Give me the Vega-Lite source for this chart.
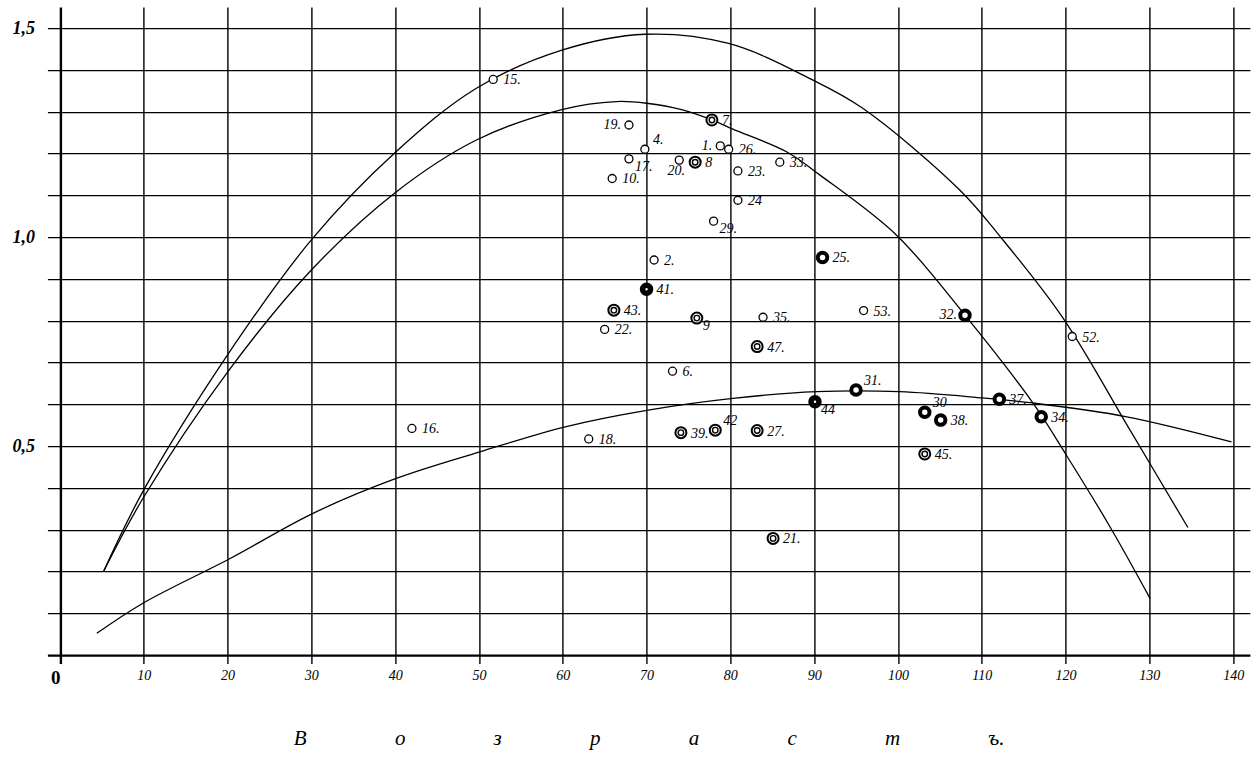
{
  "$schema": "https://vega.github.io/schema/vega-lite/v6.json",
  "autosize": {"type": "none"},
  "padding": {"left": 47.4, "top": 7.1, "right": 8.1, "bottom": 93.6},
  "width": 1202.5,
  "height": 656.3,
  "background": "white",
  "config": {"view": {"stroke": null}},
  "datasets": {
    "points": [
      {"id": 15, "x": 51.7, "y": 1.377, "kind": "open", "label": "15."},
      {"id": 19, "x": 67.9, "y": 1.268, "kind": "open", "label": "19."},
      {"id": 7, "x": 77.8, "y": 1.28, "kind": "double", "label": "7."},
      {"id": 4, "x": 69.8, "y": 1.21, "kind": "open", "label": "4."},
      {"id": 1, "x": 78.8, "y": 1.218, "kind": "open", "label": "1."},
      {"id": 26, "x": 79.8, "y": 1.21, "kind": "open", "label": "26."},
      {"id": 17, "x": 67.9, "y": 1.187, "kind": "open", "label": "17."},
      {"id": 20, "x": 73.9, "y": 1.184, "kind": "open", "label": "20."},
      {"id": 8, "x": 75.8, "y": 1.179, "kind": "double", "label": "8"},
      {"id": 23, "x": 80.9, "y": 1.158, "kind": "open", "label": "23."},
      {"id": 33, "x": 85.9, "y": 1.179, "kind": "open", "label": "33."},
      {"id": 10, "x": 65.9, "y": 1.14, "kind": "open", "label": "10."},
      {"id": 24, "x": 80.9, "y": 1.088, "kind": "open", "label": "24"},
      {"id": 29, "x": 78.0, "y": 1.038, "kind": "open", "label": "29."},
      {"id": 2, "x": 70.9, "y": 0.945, "kind": "open", "label": "2."},
      {"id": 41, "x": 70.0, "y": 0.875, "kind": "heavy", "label": "41."},
      {"id": 43, "x": 66.1, "y": 0.825, "kind": "double", "label": "43."},
      {"id": 9, "x": 76.0, "y": 0.806, "kind": "double", "label": "9"},
      {"id": 35, "x": 83.9, "y": 0.808, "kind": "open", "label": "35."},
      {"id": 22, "x": 65.0, "y": 0.779, "kind": "open", "label": "22."},
      {"id": 47, "x": 83.2, "y": 0.738, "kind": "double", "label": "47."},
      {"id": 6, "x": 73.1, "y": 0.679, "kind": "open", "label": "6."},
      {"id": 16, "x": 42.0, "y": 0.542, "kind": "open", "label": "16."},
      {"id": 18, "x": 63.1, "y": 0.517, "kind": "open", "label": "18."},
      {"id": 39, "x": 74.1, "y": 0.532, "kind": "double", "label": "39."},
      {"id": 42, "x": 78.2, "y": 0.538, "kind": "double", "label": "42"},
      {"id": 27, "x": 83.2, "y": 0.537, "kind": "double", "label": "27."},
      {"id": 21, "x": 85.1, "y": 0.279, "kind": "double", "label": "21."},
      {"id": 25, "x": 91.0, "y": 0.951, "kind": "bold", "label": "25."},
      {"id": 53, "x": 95.9, "y": 0.824, "kind": "open", "label": "53."},
      {"id": 32, "x": 108.0, "y": 0.813, "kind": "bold", "label": "32."},
      {"id": 52, "x": 120.8, "y": 0.762, "kind": "open", "label": "52."},
      {"id": 31, "x": 95.0, "y": 0.634, "kind": "bold", "label": "31."},
      {"id": 44, "x": 90.1, "y": 0.606, "kind": "heavy", "label": "44"},
      {"id": 37, "x": 112.1, "y": 0.612, "kind": "bold", "label": "37."},
      {"id": 30, "x": 103.2, "y": 0.581, "kind": "bold", "label": "30"},
      {"id": 38, "x": 105.1, "y": 0.562, "kind": "bold", "label": "38."},
      {"id": 34, "x": 117.1, "y": 0.57, "kind": "bold", "label": "34."},
      {"id": 45, "x": 103.2, "y": 0.481, "kind": "double", "label": "45."}
    ],
    "curves": [
      {"curve": "A", "x": 5.2, "y": 0.2},
      {"curve": "A", "x": 10, "y": 0.395},
      {"curve": "A", "x": 20, "y": 0.718},
      {"curve": "A", "x": 30, "y": 0.993},
      {"curve": "A", "x": 40, "y": 1.202},
      {"curve": "A", "x": 49.7, "y": 1.356},
      {"curve": "A", "x": 59.9, "y": 1.447},
      {"curve": "A", "x": 69.8, "y": 1.485},
      {"curve": "A", "x": 79.8, "y": 1.463},
      {"curve": "A", "x": 89.7, "y": 1.377},
      {"curve": "A", "x": 95.8, "y": 1.308},
      {"curve": "A", "x": 107.4, "y": 1.112},
      {"curve": "A", "x": 112.2, "y": 1.001},
      {"curve": "A", "x": 119.7, "y": 0.806},
      {"curve": "A", "x": 127.7, "y": 0.538},
      {"curve": "A", "x": 134.6, "y": 0.305},
      {"curve": "B", "x": 5.2, "y": 0.2},
      {"curve": "B", "x": 10, "y": 0.378},
      {"curve": "B", "x": 20, "y": 0.677},
      {"curve": "B", "x": 30, "y": 0.921},
      {"curve": "B", "x": 40, "y": 1.106},
      {"curve": "B", "x": 49.7, "y": 1.232},
      {"curve": "B", "x": 59.9, "y": 1.305},
      {"curve": "B", "x": 66.4, "y": 1.324},
      {"curve": "B", "x": 70, "y": 1.32},
      {"curve": "B", "x": 74.3, "y": 1.304},
      {"curve": "B", "x": 77.8, "y": 1.28},
      {"curve": "B", "x": 80.3, "y": 1.258},
      {"curve": "B", "x": 86.7, "y": 1.204},
      {"curve": "B", "x": 90.7, "y": 1.148},
      {"curve": "B", "x": 99.8, "y": 1.005},
      {"curve": "B", "x": 107.8, "y": 0.818},
      {"curve": "B", "x": 116.1, "y": 0.603},
      {"curve": "B", "x": 120.1, "y": 0.478},
      {"curve": "B", "x": 125.3, "y": 0.307},
      {"curve": "B", "x": 130.1, "y": 0.135},
      {"curve": "C", "x": 4.4, "y": 0.052},
      {"curve": "C", "x": 9.9, "y": 0.124},
      {"curve": "C", "x": 20.3, "y": 0.231},
      {"curve": "C", "x": 30.2, "y": 0.339},
      {"curve": "C", "x": 40.2, "y": 0.423},
      {"curve": "C", "x": 50.1, "y": 0.486},
      {"curve": "C", "x": 60.3, "y": 0.546},
      {"curve": "C", "x": 70.2, "y": 0.586},
      {"curve": "C", "x": 80.3, "y": 0.614},
      {"curve": "C", "x": 90.3, "y": 0.63},
      {"curve": "C", "x": 100.2, "y": 0.63},
      {"curve": "C", "x": 110.1, "y": 0.615},
      {"curve": "C", "x": 116.1, "y": 0.603},
      {"curve": "C", "x": 127.3, "y": 0.57},
      {"curve": "C", "x": 139.8, "y": 0.51}
    ]
  },
  "encoding": {
    "x": {
      "field": "x", "type": "quantitative",
      "scale": {"domain": [-1.5, 142], "nice": false, "zero": false},
      "axis": {
        "values": [0, 10, 20, 30, 40, 50, 60, 70, 80, 90, 100, 110, 120, 130, 140],
        "grid": true,
        "gridColor": "black",
        "gridOpacity": 1,
        "gridWidth": {"condition": {"test": "datum.value == 0", "value": 2.4}, "value": 1.4},
        "domain": false,
        "ticks": false,
        "labelExpr": "datum.value == 0 ? '0' : datum.label",
        "labelFont": "Liberation Serif",
        "labelFontStyle": {"condition": {"test": "datum.value == 0", "value": "normal"}, "value": "italic"},
        "labelFontWeight": {"condition": {"test": "datum.value == 0", "value": "bold"}, "value": "normal"},
        "labelFontSize": {"condition": {"test": "datum.value == 0", "value": 19}, "value": 14},
        "labelAlign": {"condition": {"test": "datum.value == 0", "value": "right"}, "value": "center"},
        "labelColor": "black",
        "labelPadding": 5,
        "labelFlush": false,
        "labelOverlap": false,
        "title": "В\u2003\u2003\u2003\u2003\u2009о\u2003\u2003\u2003\u2003\u2009з\u2003\u2003\u2003\u2003\u2009р\u2003\u2003\u2003\u2003\u2009а\u2003\u2003\u2003\u2003\u2009с\u2003\u2003\u2003\u2003\u2009т\u2003\u2003\u2003\u2003\u2009ъ.",
        "titleFont": "Liberation Serif",
        "titleFontStyle": "italic",
        "titleFontWeight": "normal",
        "titleFontSize": 21,
        "titleColor": "black",
        "titlePadding": 40
      }
    },
    "y": {
      "field": "y", "type": "quantitative",
      "scale": {"domain": [-0.02, 1.55], "nice": false, "zero": false},
      "axis": {
        "values": [0, 0.1, 0.2, 0.3, 0.4, 0.5, 0.6, 0.7, 0.8, 0.9, 1, 1.1, 1.2, 1.3, 1.4, 1.5],
        "grid": true,
        "gridColor": "black",
        "gridOpacity": 1,
        "gridWidth": {"condition": {"test": "datum.value == 0", "value": 2.2}, "value": 1.4},
        "domain": false,
        "ticks": false,
        "labelExpr": "datum.value == 0.5 ? '0,5' : datum.value == 1 ? '1,0' : datum.value == 1.5 ? '1,5' : ''",
        "labelFont": "Liberation Serif",
        "labelFontStyle": "italic",
        "labelFontWeight": "bold",
        "labelFontSize": 18,
        "labelColor": "black",
        "labelPadding": 13,
        "labelOverlap": false,
        "title": null
      }
    }
  },
  "layer": [
    {
      "data": {"name": "curves"},
      "mark": {"type": "line", "color": "black", "strokeWidth": 1.3, "interpolate": "catmull-rom"},
      "encoding": {"detail": {"field": "curve"}}
    },
    {
      "data": {"name": "points"},
      "transform": [{"filter": "datum.kind == 'open'"}],
      "mark": {"type": "point", "shape": "circle", "filled": true, "fill": "white", "stroke": "black", "strokeWidth": 1.3, "size": 64, "opacity": 1}
    },
    {
      "data": {"name": "points"},
      "transform": [{"filter": "datum.kind == 'double'"}],
      "mark": {"type": "point", "shape": "circle", "filled": true, "fill": "white", "stroke": "black", "strokeWidth": 2, "size": 121, "opacity": 1}
    },
    {
      "data": {"name": "points"},
      "transform": [{"filter": "datum.kind == 'double'"}],
      "mark": {"type": "point", "shape": "circle", "filled": true, "fill": "white", "stroke": "black", "strokeWidth": 1.4, "size": 30, "opacity": 1}
    },
    {
      "data": {"name": "points"},
      "transform": [{"filter": "datum.kind == 'bold'"}],
      "mark": {"type": "point", "shape": "circle", "filled": true, "fill": "white", "stroke": "black", "strokeWidth": 4, "size": 90, "opacity": 1}
    },
    {
      "data": {"name": "points"},
      "transform": [{"filter": "datum.kind == 'heavy'"}],
      "mark": {"type": "point", "shape": "circle", "filled": true, "fill": "white", "stroke": "black", "strokeWidth": 5.5, "size": 64, "opacity": 1}
    },
    {
      "data": {"name": "points"},
      "transform": [{"filter": "indexof([19, 1, 32, 17, 29, 44, 9, 31, 30, 42, 4, 20], datum.id) < 0"}],
      "mark": {"type": "text", "align": "left", "baseline": "middle", "dx": 10, "dy": 1, "font": "Liberation Serif", "fontStyle": "italic", "fontSize": 14, "color": "black"},
      "encoding": {"text": {"field": "label"}}
    },
    {
      "data": {"name": "points"},
      "transform": [{"filter": "indexof([19, 1, 32], datum.id) >= 0"}],
      "mark": {"type": "text", "align": "right", "baseline": "middle", "dx": -8, "dy": 0, "font": "Liberation Serif", "fontStyle": "italic", "fontSize": 14, "color": "black"},
      "encoding": {"text": {"field": "label"}}
    },
    {
      "data": {"name": "points"},
      "transform": [{"filter": "indexof([31, 30, 42, 4], datum.id) >= 0"}],
      "mark": {"type": "text", "align": "left", "baseline": "middle", "dx": 8, "dy": -9, "font": "Liberation Serif", "fontStyle": "italic", "fontSize": 14, "color": "black"},
      "encoding": {"text": {"field": "label"}}
    },
    {
      "data": {"name": "points"},
      "transform": [{"filter": "indexof([17, 29, 44, 9], datum.id) >= 0"}],
      "mark": {"type": "text", "align": "left", "baseline": "middle", "dx": 6, "dy": 8, "font": "Liberation Serif", "fontStyle": "italic", "fontSize": 14, "color": "black"},
      "encoding": {"text": {"field": "label"}}
    },
    {
      "data": {"name": "points"},
      "transform": [{"filter": "datum.id == 20"}],
      "mark": {"type": "text", "align": "center", "baseline": "middle", "dx": -3, "dy": 11, "font": "Liberation Serif", "fontStyle": "italic", "fontSize": 14, "color": "black"},
      "encoding": {"text": {"field": "label"}}
    }
  ]
}
